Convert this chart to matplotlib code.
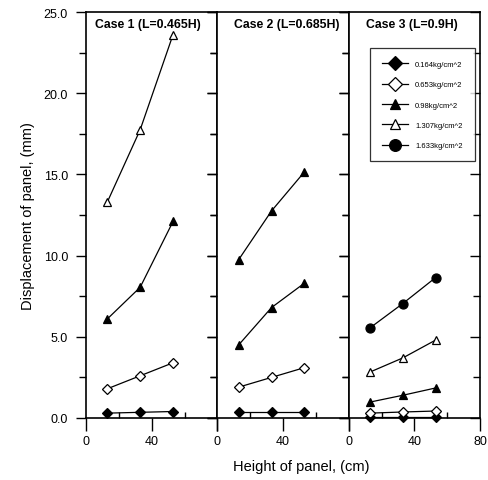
import numpy as np
import matplotlib.pyplot as plt
from matplotlib.ticker import MultipleLocator

plt.rcParams['font.family'] = ['Liberation Sans', 'DejaVu Sans']

# Data
height = [13, 33, 53]
loads = ['0.164kg/cm^2', '0.653kg/cm^2', '0.98kg/cm^2', '1.307kg/cm^2', '1.633kg/cm^2']
titles = ['Case 1 (L=0.465H)', 'Case 2 (L=0.685H)', 'Case 3 (L=0.9H)']

case1 = [
    [0.3, 0.35, 0.4],
    [1.8, 2.6, 3.4],
    [6.1, 8.05, 12.1],
    [13.3, 17.75, 23.6],
]
case2 = [
    [0.37, 0.37, 0.37],
    [1.9, 2.5, 3.1],
    [4.5, 6.8, 8.3],
    [9.75, 12.75, 15.15],
]
case3 = [
    [0.05, 0.05, 0.05],
    [0.3, 0.37, 0.43],
    [0.98, 1.4, 1.85],
    [2.83, 3.7, 4.8],
    [5.55, 7.05, 8.65],
]

# marker, fill for each load level
styles = [('D', 'k'), ('D', 'w'), ('^', 'k'), ('^', 'w'), ('o', 'k')]

fig = plt.figure(figsize=(4.88, 4.81), dpi=100)
left, right = 86 / 488, 480 / 488
bottom, top = 1 - 419 / 481, 1 - 13 / 481
w = (right - left) / 3

cases = [case1, case2, case3]
title_x = [0.07, 0.13, 0.13]
axes = []
for i, data in enumerate(cases):
    ax = fig.add_axes([left + i * w, bottom, w, top - bottom])
    axes.append(ax)
    for j, vals in enumerate(data):
        m, fc = styles[j]
        if i == 1 and j == 3:
            fc = 'k'  # top series in case 2 printed with filled triangles
        ms = 6.5 if m == 'o' else 5.5
        ax.plot(height, vals, color='k', lw=0.9, marker=m, ms=ms,
                mfc=fc, mec='k', mew=0.9, label=loads[j], clip_on=False)
    ax.set_xlim(0, 80)
    ax.set_ylim(0, 25)
    ax.xaxis.set_major_locator(MultipleLocator(40))
    ax.xaxis.set_minor_locator(MultipleLocator(20))
    ax.yaxis.set_major_locator(MultipleLocator(5))
    ax.yaxis.set_minor_locator(MultipleLocator(2.5))
    ax.tick_params(axis='x', which='major', direction='out', length=9, width=1,
                   labelsize=9, pad=3)
    ax.tick_params(axis='x', which='minor', direction='in', length=4, width=1)
    ax.tick_params(axis='y', which='both', left=True, right=True, width=1)
    ax.tick_params(axis='y', which='major', length=7, labelsize=9, pad=6)
    ax.tick_params(axis='y', which='minor', length=5)
    ax.yaxis.set_tick_params(which='both', direction='out')
    for t in ax.yaxis.get_major_ticks() + ax.yaxis.get_minor_ticks():
        t.tick2line.set_marker(0)  # right-side ticks point left (inward)
    if i < 2:
        ax.set_xticks([0, 40, 80], ['0', '40', ''])
    else:
        ax.set_xticks([0, 40, 80], ['0', '40', '80'])
    if i > 0:
        ax.tick_params(axis='y', labelleft=False)
    else:
        ax.yaxis.set_major_formatter(lambda v, p: f'{v:.1f}')
    for s in ax.spines.values():
        s.set_linewidth(1.2)
    ax.text(title_x[i], 0.985, titles[i], transform=ax.transAxes, ha='left',
            va='top', fontsize=8.8, fontweight='bold')

leg = axes[2].legend(loc='upper right', bbox_to_anchor=(0.99, 0.92),
                     fontsize=5.5, frameon=True, fancybox=False,
                     edgecolor='k', handlelength=3.4, labelspacing=1.7,
                     borderpad=1.6, handletextpad=0.9, markerscale=1.3)
leg.get_frame().set_linewidth(0.9)

axes[0].set_ylabel('Displacement of panel, (mm)', fontsize=10.5, labelpad=6)
fig.text(301 / 488, 1 - 467 / 481, 'Height of panel, (cm)', ha='center',
         va='center', fontsize=10.5)

fig.savefig('out.png', dpi=100)
